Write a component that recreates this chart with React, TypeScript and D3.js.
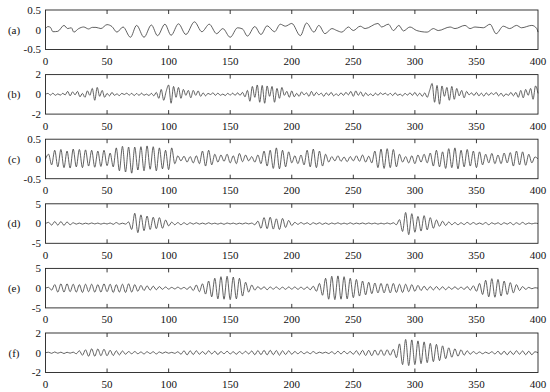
import React from "react";
import * as d3 from "d3";

// ---------- data ----------
const panelLabels = ["(a)", "(b)", "(c)", "(d)", "(e)", "(f)"];
const xTicks = [0, 50, 100, 150, 200, 250, 300, 350, 400];
const yDomains: [number, number][] = [[-0.5, 0.5], [-2, 2], [-0.5, 0.5], [-5, 5], [-5, 5], [-2, 2]];
const yTickLabels = [["0.5", "0", "-0.5"], ["2", "0", "-2"], ["0.5", "0", "-0.5"], ["5", "0", "-5"], ["5", "0", "-5"], ["2", "0", "-2"]];

// (a): local extrema (sample index, value)
const aT = [0, 2, 4, 6, 10, 15, 18, 21, 23, 27, 31, 35, 38, 41, 45, 50, 54, 58, 63, 69, 74, 80, 86, 91, 97, 102, 108, 114, 121, 127, 133, 139, 144, 150, 156, 160, 164, 170, 175, 180, 186,
  190.7, 194.8, 200, 207, 212, 218, 222, 227, 232.6, 236.6, 240.7, 246, 250, 255.6, 259.6, 270, 273, 278.5, 282.6, 287, 290.7, 296, 301.5, 310, 315, 319, 328.6, 332.6, 340.7, 344.8, 348.8, 355.6, 361, 366, 371.8, 377, 382.6, 386.6, 395, 399, 400];
const aV = [0.03, 0.08, 0.06, -0.05, -0.04, 0.11, 0.03, 0.05, -0.06, 0.03, 0.07, 0.02, 0.06, 0.06, 0.03, 0.13, 0.08, -0.06, 0.07, -0.19, 0.11, -0.19, 0.12, -0.15, 0.14, -0.14, 0.15, -0.12, 0.2, -0.05, 0.14, -0.1, 0.03, -0.19, 0.05, 0.02, -0.16, 0.08, -0.12, 0.1, -0.05,
  0.14, 0.09, 0.16, -0.15, 0.17, -0.06, 0.11, -0.1, 0.03, -0.02, -0.06, 0.07, -0.02, 0.09, 0.03, 0.16, 0.07, 0.14, -0.02, 0.11, -0.03, 0.07, -0.02, -0.06, 0.03, -0.02, 0.07, 0.03, 0.11, 0.03, 0.07, 0.05, 0.14, -0.1, 0.09, 0.03, 0.11, 0.05, 0.11, 0.03, -0.06];

// (b): values every 2 samples
const bV = [
  0, 0.1, -0.08, 0.12, -0.1, 0.05, -0.08, 0.1, -0.05, 0.3,
  -0.15, 0.25, -0.05, 0.3, -0.25, 0.1, -0.3, 0.35, -0.1, 0.6,
  -0.6, 0.7, -0.2, 0.4, -0.3, 0.1, -0.15, 0.2, -0.1, 0.05,
  -0.12, 0.1, -0.02, 0.12, -0.08, 0.1, -0.12, 0.08, -0.1, 0.12,
  -0.1, 0.03, -0.12, 0.1, -0.15, 0.2, -0.4, 0.5, -0.6, 0.3,
  0.95, -0.9, 0.8, -0.3, 0.7, -0.4, 0.5, -0.1, 0.4, -0.35,
  0.4, -0.1, 0.35, -0.2, 0.15, -0.15, 0.1, -0.02, 0.15, -0.1,
  0.12, -0.1, 0.03, -0.12, 0.1, -0.08, 0.12, -0.1, 0.15, -0.1,
  0.2, -0.25, 0.4, -0.7, 0.8, -0.3, 0.95, -0.8, 0.9, -0.9,
  0.85, -0.2, 0.8, -0.8, 0.6, -0.4, 0.7, -0.1, 0.3, -0.3,
  0.35, -0.25, 0.1, -0.2, 0.25, -0.05, 0.15, -0.2, 0.3, -0.15,
  0.2, -0.05, 0.12, -0.2, 0.15, -0.1, 0.2, -0.15, 0.05, -0.12,
  0.15, -0.1, 0.2, -0.05, 0.3, -0.2, 0.35, -0.1, 0.25, -0.2,
  0.15, -0.12, 0.05, -0.15, 0.12, -0.1, 0.15, -0.02, 0.12, -0.08,
  0.1, -0.12, 0.15, -0.1, 0.02, -0.15, 0.1, -0.08, 0.15, -0.1,
  0.2, -0.15, 0.12, -0.2, 0.15, -0.3, 0.4, 1.1, -0.8, 0.9,
  -1.0, 0.85, -0.2, 0.7, -0.6, 0.8, -0.5, 0.6, -0.15, 0.4,
  -0.35, 0.3, -0.05, 0.15, -0.12, 0.2, -0.15, 0.12, -0.18, 0.15,
  -0.1, 0.15, -0.02, 0.2, -0.15, 0.12, -0.2, 0.05, -0.1, 0.2,
  -0.15, 0.2, -0.3, 0.4, -0.35, 0.5, -0.1, 0.6, -0.5, 0.85,
  0.1];

// (c)-(f): values every 2.5 samples
const cV = [
  0, 0.12, -0.15, 0.22, -0.2, 0.24, -0.22, 0.2, -0.23, 0.25,
  -0.2, 0.24, -0.22, 0.23, -0.18, 0.22, -0.21, 0.2, -0.19, 0.22,
  -0.17, 0.15, -0.2, 0.28, -0.3, 0.32, -0.33, 0.3, -0.36, 0.3,
  -0.28, 0.31, -0.3, 0.33, -0.26, 0.31, -0.3, 0.28, -0.25, 0.22,
  -0.27, 0.28, -0.12, 0.08, -0.05, 0.07, -0.08, 0.06, -0.1, 0.08,
  -0.12, 0.2, -0.18, 0.22, -0.15, 0.12, -0.08, 0.1, -0.06, 0.12,
  -0.1, 0.08, -0.12, 0.14, -0.07, 0.1, -0.05, 0.06, -0.08, 0.1,
  -0.12, 0.2, -0.18, 0.22, -0.24, 0.28, -0.25, 0.22, -0.2, 0.18,
  -0.1, 0.08, -0.12, 0.1, -0.15, 0.22, -0.2, 0.25, -0.22, 0.2,
  -0.18, 0.12, -0.08, 0.06, -0.05, 0.08, -0.06, 0.05, -0.07, 0.06,
  -0.05, 0.08, -0.06, 0.1, -0.08, 0.07, -0.1, 0.2, -0.22, 0.25,
  -0.24, 0.26, -0.22, 0.24, -0.2, 0.12, -0.08, 0.06, -0.1, 0.08,
  -0.12, 0.1, -0.08, 0.12, -0.1, 0.15, -0.18, 0.22, -0.2, 0.18,
  -0.24, 0.26, -0.22, 0.28, -0.25, 0.22, -0.2, 0.24, -0.18, 0.2,
  -0.22, 0.18, -0.15, 0.12, -0.1, 0.14, -0.12, 0.1, -0.12, 0.15,
  -0.1, 0.16, -0.18, 0.2, -0.15, 0.18, -0.16, 0.12, -0.1, 0.05,
  0];

const dV = [
  0, 0.3, -0.4, 0.5, -0.4, 0.5, -0.45, 0.4, -0.3, 0.2,
  -0.15, 0.12, -0.15, 0.1, -0.12, 0.15, -0.1, 0.12, -0.15, 0.1,
  -0.12, 0.15, -0.2, 0.25, -0.15, 0.1, -0.15, 0.4, -1.5, 2.6,
  -2.3, 2.2, -1.8, 1.9, -1.5, 1.6, -1.3, 1.5, -1.2, 0.9,
  -0.6, 0.35, -0.3, 0.25, -0.3, 0.2, -0.25, 0.2, -0.15, 0.2,
  -0.15, 0.12, -0.15, 0.2, -0.12, 0.1, -0.15, 0.12, -0.2, 0.15,
  -0.1, 0.12, -0.15, 0.1, -0.12, 0.15, -0.1, 0.12, -0.3, 0.6,
  -1.2, 1.5, -1.3, 1.6, -1.4, 1.2, -1.5, 1.3, -1.0, 0.8,
  -0.5, 0.3, -0.2, 0.25, -0.15, 0.2, -0.25, 0.2, -0.15, 0.2,
  -0.2, 0.15, -0.2, 0.15, -0.12, 0.2, -0.15, 0.12, -0.15, 0.2,
  -0.15, 0.12, -0.1, 0.15, -0.12, 0.15, -0.1, 0.12, -0.15, 0.1,
  -0.12, 0.15, -0.12, 0.2, -0.3, 1.0, -2.0, 2.8, -2.8, 2.5,
  -2.2, 1.8, -1.9, 2.0, -1.6, 1.5, -1.2, 0.9, -0.7, 0.6,
  -0.5, 0.4, -0.3, 0.25, -0.3, 0.2, -0.25, 0.3, -0.2, 0.25,
  -0.2, 0.15, -0.2, 0.25, -0.3, 0.2, -0.15, 0.2, -0.25, 0.2,
  -0.15, 0.25, -0.3, 0.2, -0.2, 0.3, -0.2, 0.15, -0.1, 0.1,
  0];

const eV = [
  0, 0.2, -0.5, 0.9, -1.0, 1.1, -1.0, 1.1, -0.9, 1.0,
  -1.0, 0.9, -1.1, 1.0, -0.9, 1.0, -1.0, 0.9, -1.0, 1.1,
  -0.9, 1.0, -1.1, 0.9, -1.0, 1.0, -1.1, 1.1, -1.0, 0.9,
  -0.8, 0.7, -0.6, 0.6, -0.5, 0.5, -0.4, 0.4, -0.3, 0.3,
  -0.25, 0.2, -0.2, 0.25, -0.2, 0.2, -0.3, 0.4, -0.6, 0.8,
  -0.9, 1.1, -1.5, 1.8, -2.2, 2.5, -2.7, 2.9, -2.8, 3.0,
  -2.9, 2.8, -2.7, 2.5, -2.0, 1.5, -1.0, 0.8, -0.5, 0.4,
  -0.3, 0.35, -0.4, 0.3, -0.25, 0.3, -0.3, 0.25, -0.3, 0.3,
  -0.25, 0.3, -0.3, 0.25, -0.3, 0.3, -0.4, 0.5, -0.8, 1.2,
  -1.8, 2.5, -2.8, 3.0, -2.9, 3.1, -2.8, 2.9, -2.7, 2.5,
  -2.4, 2.2, -2.0, 1.8, -1.7, 1.5, -1.4, 1.3, -1.2, 1.2,
  -1.2, 1.1, -1.2, 1.2, -1.1, 1.0, -1.1, 1.0, -0.9, 0.9,
  -0.8, 0.7, -0.6, 0.5, -0.5, 0.4, -0.45, 0.4, -0.4, 0.35,
  -0.4, 0.3, -0.3, 0.35, -0.3, 0.25, -0.3, 0.4, -0.5, 0.6,
  -0.8, 1.2, -1.6, 2.0, -2.2, 2.4, -2.3, 2.2, -2.0, 1.8,
  -1.6, 1.4, -1.2, 0.9, -0.6, 0.4, -0.3, 0.2, -0.15, 0.1,
  0];

const fV = [
  0, 0.05, -0.06, 0.08, -0.05, 0.06, -0.08, 0.05, -0.04, 0.06,
  -0.1, 0.2, -0.25, 0.3, -0.35, 0.4, -0.35, 0.38, -0.3, 0.35,
  -0.3, 0.25, -0.28, 0.2, -0.22, 0.18, -0.15, 0.12, -0.1, 0.12,
  -0.1, 0.08, -0.12, 0.1, -0.08, 0.1, -0.12, 0.08, -0.06, 0.08,
  -0.05, 0.04, -0.06, 0.1, -0.15, 0.2, -0.22, 0.2, -0.18, 0.2,
  -0.15, 0.12, -0.15, 0.2, -0.12, 0.15, -0.18, 0.12, -0.1, 0.15,
  -0.12, 0.1, -0.15, 0.12, -0.1, 0.15, -0.12, 0.18, -0.2, 0.22,
  -0.2, 0.25, -0.22, 0.25, -0.2, 0.22, -0.25, 0.2, -0.18, 0.2,
  -0.15, 0.12, -0.1, 0.12, -0.1, 0.08, -0.1, 0.12, -0.08, 0.06,
  -0.05, 0.06, -0.08, 0.1, -0.12, 0.15, -0.12, 0.15, -0.1, 0.12,
  -0.15, 0.2, -0.22, 0.25, -0.28, 0.25, -0.3, 0.28, -0.25, 0.3,
  -0.28, 0.3, -0.25, 0.35, -0.5, 0.9, -1.2, 1.35, -1.3, 1.3,
  -1.2, 1.2, -1.1, 1.1, -1.0, 0.95, -0.9, 0.85, -0.8, 0.7,
  -0.6, 0.5, -0.45, 0.4, -0.35, 0.3, -0.25, 0.2, -0.15, 0.12,
  -0.1, 0.08, -0.1, 0.06, -0.08, 0.1, -0.12, 0.15, -0.18, 0.15,
  -0.2, 0.15, -0.18, 0.2, -0.15, 0.18, -0.2, 0.15, -0.2, 0.1,
  0];

const sampleSteps = [0, 2, 2.5, 2.5, 2.5, 2.5];
const series = [aV, bV, cV, dV, eV, fV];

// ---------- layout ----------
const W = 550, H = 392;
const left = 45.5, right = 538;
const top0 = 10, gap = 64.6, ph = 39.5;
const font = "Liberation Serif, Times New Roman, DejaVu Serif, serif";
const txt: React.CSSProperties = { fontFamily: font, fontSize: "11px" };

export default function App() {
  const x = d3.scaleLinear().domain([0, 400]).range([left, right]);
  return (
    <svg width={W} height={H} style={{ position: "absolute", left: 0, top: 0, background: "#fff", fontFamily: font }}>
      {series.map((vals, i) => {
        const top = top0 + i * gap;
        const y = d3.scaleLinear().domain(yDomains[i]).range([top + ph, top]);
        const pts: [number, number][] = i === 0
          ? aT.map((t, k) => [t, vals[k]])
          : vals.map((v, k) => [k * sampleSteps[i], v]);
        const line = d3.line<[number, number]>()
          .x(d => x(d[0])).y(d => y(d[1]))
          .curve(d3.curveMonotoneX);
        const yt = [yDomains[i][1], 0, yDomains[i][0]];
        return (
          <g key={i}>
            <path d={line(pts) || ""} fill="none" stroke="#3a3a3a" strokeWidth={0.8} />
            <rect x={left} y={top} width={right - left} height={ph} fill="none" stroke="#222" strokeWidth={0.9} />
            {xTicks.slice(1, -1).map(t => (
              <g key={t}>
                <line x1={x(t)} x2={x(t)} y1={top} y2={top + 4} stroke="#222" strokeWidth={0.9} />
                <line x1={x(t)} x2={x(t)} y1={top + ph} y2={top + ph - 4} stroke="#222" strokeWidth={0.9} />
              </g>
            ))}
            {xTicks.map(t => (
              <text key={t} x={x(t)} y={top + ph + 15.5} style={txt} textAnchor="middle" fill="#111">{t}</text>
            ))}
            {yt.map((v, k) => (
              <text key={k} x={41} y={y(v) + 3.8} style={txt} textAnchor="end" fill="#111">{yTickLabels[i][k]}</text>
            ))}
            <text x={14} y={y(0) + 3.8} style={txt} textAnchor="middle" fill="#111">{panelLabels[i]}</text>
          </g>
        );
      })}
    </svg>
  );
}
